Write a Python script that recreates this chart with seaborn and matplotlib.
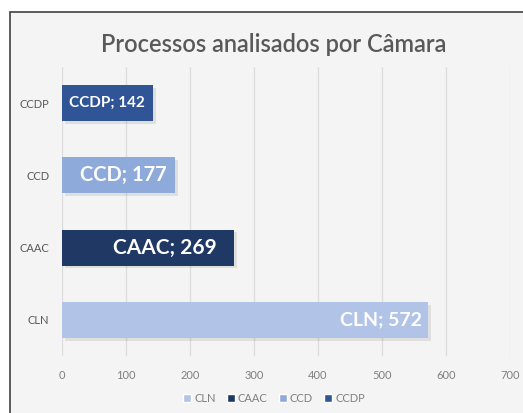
import matplotlib
matplotlib.use("Agg")
import matplotlib.pyplot as plt
import matplotlib.patheffects as pe
import seaborn as sns
import pandas as pd
from matplotlib.patches import Rectangle, Patch

# ---- data ----
categories = ["CCDP", "CCD", "CAAC", "CLN"]
values = [142, 177, 269, 572]
legend_order = ["CLN", "CAAC", "CCD", "CCDP"]
xticks = [0, 100, 200, 300, 400, 500, 600, 700]
title = "Processos analisados por Câmara"

colors = {"CLN": "#b1c4e8", "CAAC": "#1f3864", "CCD": "#8eaadb", "CCDP": "#2f5597"}
label_sizes = {"CCDP": 11, "CCD": 14.5, "CAAC": 15, "CLN": 14}
label_pads = {"CCDP": 8, "CCD": 9, "CAAC": 17, "CLN": 6}

sns.set_theme(style="white")
plt.rcParams["font.family"] = ["Lato", "DejaVu Sans"]

df = pd.DataFrame({"cat": categories, "val": values})

fig = plt.figure(figsize=(5.23, 4.13), dpi=100)
fig.patch.set_facecolor("white")
# chart frame
frame = Rectangle((10 / 523, -0.05), 1.2, 1 - 12 / 413 + 0.05,
                  transform=fig.transFigure, facecolor="#f4f4f4",
                  edgecolor="#404040", linewidth=1.2, zorder=-10)
fig.patches.append(frame)

ax = fig.add_axes([62 / 523, 1 - 356 / 413, (510 - 62) / 523, (356 - 67) / 413])
ax.set_facecolor("none")
ax.set_zorder(1)

sns.barplot(data=df, x="val", y="cat", hue="cat", order=categories,
            palette=colors, orient="h", width=0.5, dodge=False, saturation=1,
            linewidth=0, legend=False, ax=ax, zorder=3)

for p in ax.patches:
    p.set_path_effects([pe.SimplePatchShadow(offset=(2, -2), alpha=0.18,
                                             shadow_rgbFace="#808080"),
                        pe.Normal()])

ax.set_xlim(0, 700)
ax.set_xticks(xticks)
ax.set_xticklabels([str(t) for t in xticks], color="#7f7f7f", fontsize=8)
ax.tick_params(axis="y", labelsize=8, labelcolor="#595959", length=0, pad=9)
ax.tick_params(axis="x", length=0, pad=10)
ax.set_xlabel("")
ax.set_ylabel("")
ax.grid(axis="x", color="#dcdcdc", linewidth=0.9, zorder=0)
ax.set_axisbelow(True)
for s in ax.spines.values():
    s.set_visible(False)

for i, (c, v) in enumerate(zip(categories, values)):
    ax.annotate(f"{c}; {v}", xy=(v, i), xytext=(-label_pads[c], 0),
                textcoords="offset pixels", ha="right", va="center",
                color="white", fontsize=label_sizes[c], fontweight="bold",
                zorder=5)

fig.text(274 / 523, 1 - 45 / 413, title, ha="center", va="center",
         fontsize=17, fontweight="semibold", color="#595959")

handles = [Patch(facecolor=colors[c], label=c) for c in legend_order]
fig.legend(handles=handles, loc="center", bbox_to_anchor=(274 / 523, 1 - 398 / 413),
           ncol=4, frameon=False, fontsize=8, handlelength=0.7, handleheight=0.7,
           handletextpad=0.3, columnspacing=1.0, labelcolor="#7f7f7f")

fig.savefig("out.png", dpi=100, facecolor="white")
